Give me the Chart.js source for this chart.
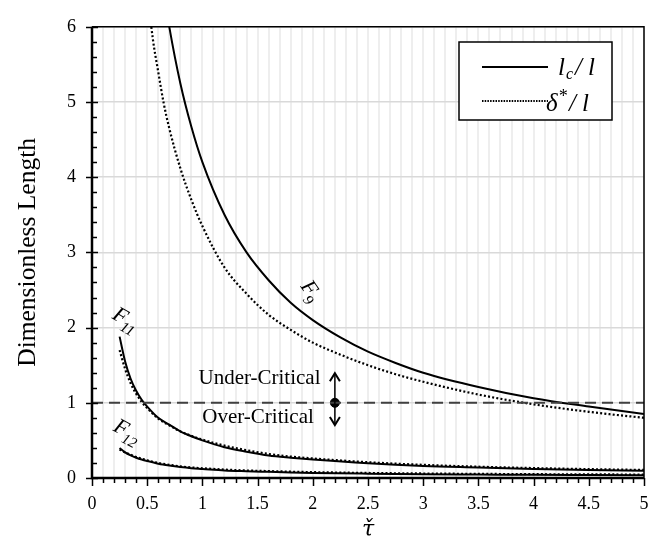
<!DOCTYPE html>
<html>
<head>
<meta charset="utf-8">
<script src="https://cdn.jsdelivr.net/npm/chart.js@4.4.1/dist/chart.umd.min.js"></script>
<style>
  html, body { margin: 0; padding: 0; background: #fff; }
  #wrap { width: 665px; height: 547px; }
</style>
</head>
<body>
<div id="wrap"><canvas id="chart" width="665" height="547"></canvas></div>
<script>
const SERIF = '"Liberation Serif", "DejaVu Serif", serif';

// values
const f9X = [0.5, 0.55, 0.6, 0.65, 0.7, 0.8, 0.9, 1.0, 1.2, 1.4, 1.6, 1.8, 2.0, 2.25, 2.5, 2.75, 3.0, 3.5, 4.0, 4.5, 5.0];
const f9Lc = [8.4, 7.64, 7.0, 6.46, 6.0, 5.25, 4.67, 4.2, 3.5, 3.0, 2.63, 2.33, 2.1, 1.87, 1.68, 1.53, 1.40, 1.21, 1.06, 0.95, 0.85];
const f9Delta = [6.5, 5.85, 5.4, 4.98, 4.65, 4.12, 3.7, 3.35, 2.8, 2.45, 2.17, 1.97, 1.80, 1.64, 1.50, 1.38, 1.28, 1.11, 0.98, 0.88, 0.80];

const f11X = [0.25, 0.3, 0.35, 0.4, 0.45, 0.5, 0.6, 0.7, 0.8, 0.9, 1.0, 1.2, 1.4, 1.6, 1.8, 2.0, 2.5, 3.0, 3.5, 4.0, 4.5, 5.0];
const f11Lc = [1.88, 1.55, 1.32, 1.16, 1.04, 0.95, 0.80, 0.71, 0.62, 0.555, 0.50, 0.41, 0.35, 0.30, 0.27, 0.245, 0.195, 0.16, 0.14, 0.12, 0.105, 0.095];
const f11Delta = [1.70, 1.45, 1.26, 1.12, 1.01, 0.93, 0.79, 0.70, 0.62, 0.56, 0.51, 0.43, 0.37, 0.32, 0.285, 0.26, 0.21, 0.175, 0.15, 0.132, 0.118, 0.107];

const f12X = f11X;
const f12Lc = [0.40, 0.34, 0.30, 0.27, 0.245, 0.225, 0.19, 0.165, 0.145, 0.13, 0.12, 0.10, 0.09, 0.082, 0.074, 0.068, 0.058, 0.05, 0.046, 0.042, 0.04, 0.037];
const f12Delta = [0.38, 0.34, 0.31, 0.28, 0.255, 0.235, 0.20, 0.175, 0.155, 0.14, 0.13, 0.112, 0.10, 0.092, 0.084, 0.078, 0.067, 0.06, 0.055, 0.051, 0.048, 0.046];

const critX = [0, 5];
const critY = [1, 1];
const markX = [2.2];
const markY = [1];

function pts(xs, ys) {
  return xs.map((x, i) => ({ x: x, y: ys[i] }));
}

function solid(data) {
  return { data: data, showLine: true, borderColor: '#000', borderWidth: 2, pointRadius: 0, cubicInterpolationMode: 'monotone' };
}
function dotted(data) {
  return { data: data, showLine: true, borderColor: '#000', borderWidth: 2.2, borderDash: [2, 2.2], pointRadius: 0, cubicInterpolationMode: 'monotone' };
}

function isInt(v) { return Math.abs(v - Math.round(v)) < 1e-6; }

function subLabel(ctx, cx, cy, angle, main, sub) {
  ctx.save();
  ctx.translate(cx, cy);
  ctx.rotate(angle * Math.PI / 180);
  ctx.fillStyle = '#000';
  ctx.textBaseline = 'alphabetic';
  ctx.font = 'italic 22px ' + SERIF;
  const w1 = ctx.measureText(main).width;
  ctx.font = 'italic 15px ' + SERIF;
  const w2 = ctx.measureText(sub).width;
  const x0 = -(w1 + w2) / 2;
  ctx.font = 'italic 22px ' + SERIF;
  ctx.fillText(main, x0, 3);
  ctx.font = 'italic 15px ' + SERIF;
  ctx.fillText(sub, x0 + w1 - 1, 9);
  ctx.restore();
}

const extras = {
  id: 'extras',
  afterDraw(chart) {
    const ctx = chart.ctx;
    const xs = chart.scales.x, ys = chart.scales.y;
    const a = chart.chartArea;
    ctx.save();
    ctx.strokeStyle = '#000';

    // tick marks
    ctx.lineWidth = 1.5;
    ctx.beginPath();
    xs.ticks.forEach(t => {
      const px = Math.round(xs.getPixelForValue(t.value)) + 0.5;
      const major = Math.round(t.value * 10) % 5 === 0;
      ctx.moveTo(px, a.bottom);
      ctx.lineTo(px, a.bottom + (major ? 8 : 5));
    });
    ys.ticks.forEach(t => {
      const py = Math.round(ys.getPixelForValue(t.value)) + 0.5;
      if (isInt(t.value)) {
        ctx.moveTo(a.left - 6, py);
        ctx.lineTo(a.left + 6, py);
      } else {
        ctx.moveTo(a.left, py);
        ctx.lineTo(a.left + 5, py);
      }
    });
    ctx.stroke();

    // frame
    ctx.lineWidth = 1.5;
    ctx.beginPath();
    ctx.moveTo(a.left, a.top);
    ctx.lineTo(a.right, a.top);
    ctx.lineTo(a.right, a.bottom);
    ctx.stroke();
    ctx.lineWidth = 2.5;
    ctx.beginPath();
    ctx.moveTo(a.left, a.top);
    ctx.lineTo(a.left, a.bottom);
    ctx.lineTo(a.right, a.bottom);
    ctx.stroke();

    // curve labels
    subLabel(ctx, xs.getPixelForValue(1.96), ys.getPixelForValue(2.46), 55, 'F', '9');
    subLabel(ctx, xs.getPixelForValue(0.294), ys.getPixelForValue(2.07), 30, 'F', '11');
    subLabel(ctx, xs.getPixelForValue(0.31), ys.getPixelForValue(0.58), 28, 'F', '12');

    // under / over critical
    ctx.fillStyle = '#000';
    ctx.font = '21px ' + SERIF;
    ctx.textAlign = 'center';
    ctx.textBaseline = 'middle';
    ctx.fillText('Under-Critical', xs.getPixelForValue(1.517), ys.getPixelForValue(1.32));
    ctx.fillText('Over-Critical', xs.getPixelForValue(1.504), ys.getPixelForValue(0.80));

    // double arrow
    const ax = xs.getPixelForValue(2.2);
    const aTop = ys.getPixelForValue(1.394);
    const aBot = ys.getPixelForValue(0.704);
    ctx.lineWidth = 1.5;
    ctx.beginPath();
    ctx.moveTo(ax, aTop + 1);
    ctx.lineTo(ax, aBot - 1);
    ctx.stroke();
    ctx.lineWidth = 2;
    ctx.beginPath();
    ctx.moveTo(ax - 5, aTop + 8);
    ctx.lineTo(ax, aTop);
    ctx.lineTo(ax + 5, aTop + 8);
    ctx.moveTo(ax - 5, aBot - 8);
    ctx.lineTo(ax, aBot);
    ctx.lineTo(ax + 5, aBot - 8);
    ctx.stroke();

    // legend
    const bx = 459, by = 42, bw = 153, bh = 78;
    ctx.fillStyle = '#fff';
    ctx.fillRect(bx, by, bw, bh);
    ctx.lineWidth = 1.5;
    ctx.strokeRect(bx, by, bw, bh);
    ctx.lineWidth = 2;
    ctx.beginPath();
    ctx.moveTo(482, 67);
    ctx.lineTo(548, 67);
    ctx.stroke();
    ctx.setLineDash([1.5, 1.2]);
    ctx.beginPath();
    ctx.moveTo(482, 101);
    ctx.lineTo(548, 101);
    ctx.stroke();
    ctx.setLineDash([]);

    ctx.fillStyle = '#000';
    ctx.textAlign = 'left';
    ctx.textBaseline = 'alphabetic';
    ctx.font = 'italic 25px ' + SERIF;
    ctx.fillText('l', 558, 75);
    ctx.font = 'italic 16px ' + SERIF;
    ctx.fillText('c', 566, 79);
    ctx.font = 'italic 25px ' + SERIF;
    ctx.fillText('/', 575, 75);
    ctx.fillText('l', 588, 75);
    ctx.fillText('\u03B4', 546, 111);
    ctx.font = 'italic 18px ' + SERIF;
    ctx.fillText('*', 558, 102);
    ctx.font = 'italic 25px ' + SERIF;
    ctx.fillText('/', 569, 111);
    ctx.fillText('l', 582, 111);
    ctx.restore();
  }
};

new Chart(document.getElementById('chart'), {
  type: 'scatter',
  data: {
    datasets: [
      {
        data: pts(critX, critY), showLine: true, borderColor: '#404040', borderWidth: 2,
        borderDash: [11, 6], pointRadius: 0
      },
      solid(pts(f9X, f9Lc)),
      dotted(pts(f9X, f9Delta)),
      solid(pts(f11X, f11Lc)),
      dotted(pts(f11X, f11Delta)),
      solid(pts(f12X, f12Lc)),
      dotted(pts(f12X, f12Delta)),
      {
        data: pts(markX, markY), pointRadius: 4.5, pointBackgroundColor: '#000',
        pointBorderColor: '#000', pointBorderWidth: 1
      }
    ]
  },
  options: {
    responsive: false,
    animation: false,
    events: [],
    layout: { padding: { top: 9, right: 21, left: 0, bottom: 0 } },
    plugins: { legend: { display: false }, tooltip: { enabled: false } },
    scales: {
      x: {
        type: 'linear', min: 0, max: 5,
        afterFit(s) { s.height = 69; },
        border: { display: false },
        grid: { color: '#eeeeee', lineWidth: 2, drawTicks: false },
        ticks: {
          stepSize: 0.1, autoSkip: false, maxRotation: 0, padding: 15,
          color: '#000', font: { family: SERIF, size: 18 },
          callback(v) { const r = Math.round(v * 10); return r % 5 === 0 ? String(r / 10) : ''; }
        },
        title: {
          display: true, text: '\u03C4\u030C', color: '#000',
          font: { family: '"DejaVu Serif", serif', size: 22, style: 'italic' },
          padding: { top: 0, bottom: 4 }
        }
      },
      y: {
        type: 'linear', min: 0, max: 6,
        afterFit(s) { s.width = 92; },
        border: { display: false },
        grid: {
          drawTicks: false, lineWidth: 1.5,
          color(c) { return isInt(c.tick.value) ? '#d9d9d9' : 'rgba(0,0,0,0)'; }
        },
        ticks: {
          stepSize: 0.2, autoSkip: false, padding: 16,
          color: '#000', font: { family: SERIF, size: 18 },
          callback(v) { return isInt(v) ? String(Math.round(v)) : ''; }
        },
        title: {
          display: true, text: 'Dimensionless Length', color: '#000',
          font: { family: SERIF, size: 25.5 },
          padding: { top: 13, bottom: 0 }
        }
      }
    }
  },
  plugins: [extras]
});
</script>
</body>
</html>
